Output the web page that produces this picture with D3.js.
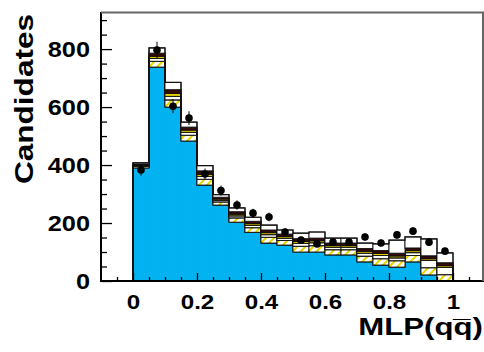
<!DOCTYPE html>
<html><head><meta charset="utf-8">
<script src="https://cdn.jsdelivr.net/npm/d3@7"></script>
<style>body{margin:0;background:#fff}svg{display:block}text{font-family:"Liberation Sans",Arial,sans-serif;font-weight:bold}</style>
</head><body><svg id="c" width="484" height="352"></svg>
<script>
// bin lower edges (width 0.05)
const binLow = [0,0.05,0.10,0.15,0.20,0.25,0.30,0.35,0.40,0.45,0.50,0.55,0.60,0.65,0.70,0.75,0.80,0.85,0.90,0.95];
const binWidth = 0.05;
// stacked components (bottom to top)
const blueSig  = [390,738,600,483,331,262,203,168,131,124,100,100,90,90,66,55,48,66,21,0];
const hatchBkg = [5,20,25,20,20,11,15,16,20,16,20,22,18,18,20,22,22,22,25,22];
const whiteMid = [3,10,12,10,10,5,7,8,9,8,10,10,9,9,10,11,10,10,25,25];
const yellowBkg= [3,8,10,8,8,5,6,6,7,6,7,7,6,6,7,7,7,7,6,6];
const darkBkg  = [3,10,13,10,11,6,8,8,9,8,9,9,8,8,9,10,9,9,10,10];
const whiteTop = [4,18,25,17,18,9,13,14,17,14,19,21,17,17,19,23,45,38,58,34];
// data points
const dataVals = [383,797,603,562,369,312,262,234,221,169,141,128,134,134,152,131,159,172,134,103];
// axis ticks
const xMajor = [0,0.2,0.4,0.6,0.8,1];
const xMinor = [-0.05,0.05,0.1,0.15,0.25,0.3,0.35,0.45,0.5,0.55,0.65,0.7,0.75,0.85,0.9,0.95,1.05];
const yMajor = [0,200,400,600,800];
const yMinor = [50,100,150,250,300,350,450,500,550,650,700,750,850,900];

const svg = d3.select("#c");
const x = d3.scaleLinear().domain([-0.1,1.1]).range([101,485]);
const y = d3.scaleLinear().domain([0,928]).range([281,12]);

const defs = svg.append("defs");
const pat = defs.append("pattern").attr("id","hatch").attr("patternUnits","userSpaceOnUse")
  .attr("width",8).attr("height",8);
pat.append("rect").attr("width",8).attr("height",8).attr("fill","#fff");
pat.append("path").attr("d","M-2,2 L2,-2 M0,8 L8,0 M6,10 L10,6").attr("stroke","#e8d600").attr("stroke-width",2);

const layers = [
  {v:blueSig, fill:"#03b2f0", blue:true},
  {v:hatchBkg, fill:"url(#hatch)"},
  {v:whiteMid, fill:"#ffffff"},
  {v:yellowBkg, fill:"#e8d000"},
  {v:darkBkg, fill:"#3a0808"},
  {v:whiteTop, fill:"#ffffff"}
];
const base = binLow.map(()=>0);
const g = svg.append("g");
layers.forEach(L => {
  const lo = base.slice();
  L.v.forEach((v,i)=>{ base[i]+=v; });
  const hi = base.slice();
  if (L.blue) {
    g.selectAll(null).data(binLow).enter().append("rect")
      .attr("x",d=>x(d)).attr("width",d=>x(d+binWidth)-x(d))
      .attr("y",(d,i)=>y(hi[i])).attr("height",(d,i)=>y(lo[i])-y(hi[i]))
      .attr("fill",L.fill).attr("stroke",L.fill).attr("stroke-width",0.5);
  } else {
    g.selectAll(null).data(binLow).enter().append("rect")
      .attr("x",d=>x(d)).attr("width",d=>x(d+binWidth)-x(d))
      .attr("y",(d,i)=>y(hi[i])).attr("height",(d,i)=>Math.max(0,y(lo[i])-y(hi[i])))
      .attr("fill",L.fill).attr("stroke","#111").attr("stroke-width",0.9);
  }
  // step outline of cumulative top
  let p = "M"+x(binLow[0])+","+y(0);
  binLow.forEach((d,i)=>{ p += "L"+x(d)+","+y(hi[i])+"L"+x(d+binWidth)+","+y(hi[i]); });
  p += "L"+x(binLow[binLow.length-1]+binWidth)+","+y(0);
  g.append("path").attr("d",p).attr("fill","none").attr("stroke","#111").attr("stroke-width",1.2);
});

// axes
const yAx = svg.append("g").attr("transform","translate(101,0)")
  .call(d3.axisLeft(y).tickValues(yMajor).tickSizeInner(-11).tickSizeOuter(0).tickPadding(11).tickFormat(d=>String(d)));
svg.append("g").attr("transform","translate(101,0)")
  .call(d3.axisLeft(y).tickValues(yMinor).tickSizeInner(-6).tickSizeOuter(0).tickFormat(""))
  .select(".domain").remove();
const xAx = svg.append("g").attr("transform","translate(0,281)")
  .call(d3.axisBottom(x).tickValues(xMajor).tickSizeInner(-8).tickSizeOuter(0).tickPadding(13).tickFormat(d=>String(d)));
svg.append("g").attr("transform","translate(0,281)")
  .call(d3.axisBottom(x).tickValues(xMinor).tickSizeInner(-4).tickSizeOuter(0).tickFormat(""))
  .select(".domain").remove();
svg.selectAll(".tick line").attr("stroke","#000").attr("stroke-width",1.3);
yAx.select(".domain").attr("stroke","#000").attr("stroke-width",2).attr("d","M0,12V282");
xAx.select(".domain").attr("stroke","#000").attr("stroke-width",2).attr("d","M100,0H484");
yAx.selectAll("text").attr("font-size",22).attr("fill","#000");
xAx.selectAll("text").attr("font-size",21).attr("fill","#000");
yAx.selectAll("text").each(function(){ this.setAttribute("textLength", this.getComputedTextLength()*1.15); this.setAttribute("lengthAdjust","spacingAndGlyphs"); });
xAx.selectAll("text").each(function(){ this.setAttribute("textLength", this.getComputedTextLength()*1.15); this.setAttribute("lengthAdjust","spacingAndGlyphs"); });

// frame top/right
svg.append("path").attr("d","M101,12.5H483V281").attr("fill","none").attr("stroke","#666").attr("stroke-width",2);

// data points
const pts = svg.append("g");
pts.selectAll("line").data(dataVals).enter().append("line")
  .attr("x1",(d,i)=>x(binLow[i]+binWidth/2)).attr("x2",(d,i)=>x(binLow[i]+binWidth/2))
  .attr("y1",d=>y(d-Math.sqrt(d))).attr("y2",d=>y(d+Math.sqrt(d)))
  .attr("stroke","#000").attr("stroke-width",1);
pts.selectAll("circle").data(dataVals).enter().append("circle")
  .attr("cx",(d,i)=>x(binLow[i]+binWidth/2)).attr("cy",d=>y(d)).attr("r",3.8).attr("fill","#000");

// titles
svg.append("text").attr("transform","translate(33,99) rotate(-90)").attr("text-anchor","middle")
  .attr("font-size",25).attr("textLength",170).attr("lengthAdjust","spacingAndGlyphs").text("Candidates");
svg.append("text").attr("transform","translate(483,335) scale(1.3,1)").attr("text-anchor","end")
  .attr("font-size",24).text("MLP(qq\u0305)");
</script></body></html>
